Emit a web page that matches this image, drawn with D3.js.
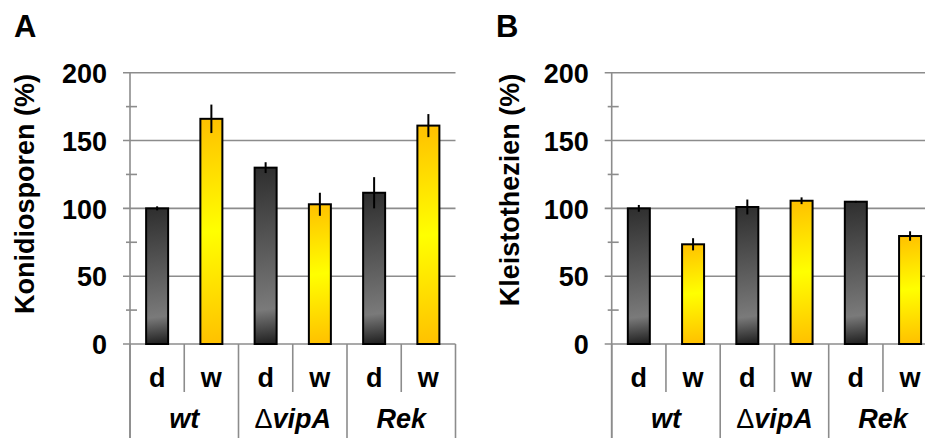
<!DOCTYPE html>
<html>
<head>
<meta charset="utf-8">
<script src="https://cdn.jsdelivr.net/npm/d3@7"></script>
<style>
  body { margin: 0; background: #fff; }
  text { font-family: "Liberation Sans", Arial, sans-serif; font-weight: bold; fill: #000; }
</style>
</head>
<body>
<div id="chart"></div>
<script>
// strains and light conditions (d = dark, w = white light)
const groups = ["wt", "vipA", "Rek"];
const conditions = ["d", "w"];

// panel A: conidiospores, panel B: cleistothecia (% of wt dark)
const konidiosporen = [100, 166, 130, 103, 111.5, 161];
const konidiosporenErr = [1.5, 10.5, 4, 8.5, 11.5, 8.5];
const kleistothezien = [100, 73.5, 101, 105.6, 104.9, 79.6];
const kleistothezienErr = [2.5, 4.5, 5.5, 2.5, 0.6, 3.5];

const yTicks = [0, 50, 100, 150, 200];
const yMinorTicks = [25, 75, 125, 175];

const width = 925, height = 438;

const svg = d3.select("#chart").append("svg")
    .attr("width", width)
    .attr("height", height);

const defs = svg.append("defs");

// one key per bar: "wt-d", "wt-w", ...
const categories = [];
groups.forEach(g => conditions.forEach(c => categories.push(g + "-" + c)));

const y = d3.scaleLinear().domain([0, 200]).range([344, 72.7]);

function drawPanel(opts) {
    let bandWidth = 54.25;
    let x = d3.scaleBand()
        .domain(categories)
        .range([opts.x0, opts.x0 + bandWidth * categories.length])
        .padding(0);
    let right = opts.x0 + bandWidth * categories.length;

    let g = svg.append("g");

    // panel letter
    g.append("text")
        .attr("x", opts.letterX)
        .attr("y", 37)
        .style("font-size", "31px")
        .text(opts.letter);

    // y axis title
    g.append("text")
        .attr("transform", "translate(" + opts.titleX + "," + opts.titleY + ")rotate(-90)")
        .attr("text-anchor", "middle")
        .style("font-size", "27px")
        .text(opts.title);

    // gridlines
    g.append("g").selectAll("line")
        .data(yTicks)
        .enter().append("line")
        .attr("x1", opts.x0 - 7)
        .attr("x2", right)
        .attr("y1", d => y(d))
        .attr("y2", d => y(d))
        .attr("stroke", "#8c8c8c")
        .attr("stroke-width", 1.6);

    // minor ticks
    g.append("g").selectAll("line")
        .data(yMinorTicks)
        .enter().append("line")
        .attr("x1", opts.x0 - 4)
        .attr("x2", opts.x0 + 7)
        .attr("y1", d => y(d))
        .attr("y2", d => y(d))
        .attr("stroke", "#8c8c8c")
        .attr("stroke-width", 1.6);

    // y axis line
    g.append("line")
        .attr("x1", opts.x0).attr("x2", opts.x0)
        .attr("y1", y(200)).attr("y2", height)
        .attr("stroke", "#8c8c8c")
        .attr("stroke-width", 1.6);

    // tick labels
    let axis = g.append("g")
        .attr("transform", "translate(" + opts.x0 + ",0)")
        .call(d3.axisLeft(y).tickValues(yTicks).tickSize(0).tickPadding(23));
    axis.select(".domain").remove();
    axis.selectAll("text")
        .attr("font-family", null)
        .style("font-size", "27px")
        .attr("dy", "0.36em");

    // category dividers below the axis
    let bounds = d3.range(categories.length + 1);
    g.append("g").selectAll("line")
        .data(bounds)
        .enter().append("line")
        .attr("x1", i => i < categories.length ? x(categories[i]) : right)
        .attr("x2", i => i < categories.length ? x(categories[i]) : right)
        .attr("y1", y(0))
        .attr("y2", i => i % 2 === 0 ? height : 392)
        .attr("stroke", "#8c8c8c")
        .attr("stroke-width", 1.6);

    // bars
    let barW = 22;
    let data = categories.map((c, i) => ({
        key: c,
        cond: c.split("-")[1],
        value: opts.values[i],
        err: opts.errors[i]
    }));

    // slightly tilted gradient per bar, like the office fill
    data.forEach((d, i) => {
        let left = x(d.key) + (bandWidth - barW) / 2;
        let top = y(d.value), bottom = y(0);
        let grad = defs.append("linearGradient")
            .attr("id", "grad-" + opts.letter + i)
            .attr("gradientUnits", "userSpaceOnUse")
            .attr("x1", left).attr("y1", top)
            .attr("x2", left + 0.12 * (bottom - top)).attr("y2", bottom);
        let stops = d.cond === "d"
            ? [[0, "#2e2e2e"], [0.8, "#7a7a7a"], [1, "#1e1e1e"]]
            : [[0, "#ffc000"], [0.5, "#ffff00"], [1, "#ffc000"]];
        stops.forEach(s => grad.append("stop").attr("offset", s[0]).attr("stop-color", s[1]));
        d.left = left;
    });

    g.append("g").selectAll("rect")
        .data(data)
        .enter().append("rect")
        .attr("x", d => d.left)
        .attr("y", d => y(d.value))
        .attr("width", barW)
        .attr("height", d => y(0) - y(d.value))
        .attr("fill", (d, i) => "url(#grad-" + opts.letter + i + ")")
        .attr("stroke", "#000")
        .attr("stroke-width", 2);

    // error bars
    g.append("g").selectAll("line")
        .data(data)
        .enter().append("line")
        .attr("x1", d => x(d.key) + bandWidth / 2)
        .attr("x2", d => x(d.key) + bandWidth / 2)
        .attr("y1", d => y(d.value + d.err))
        .attr("y2", d => y(d.value - d.err))
        .attr("stroke", "#000")
        .attr("stroke-width", 2);

    // condition labels
    g.append("g").selectAll("text")
        .data(data)
        .enter().append("text")
        .attr("x", d => x(d.key) + bandWidth / 2)
        .attr("y", 377)
        .attr("dy", "0.36em")
        .attr("text-anchor", "middle")
        .style("font-size", "27px")
        .text(d => d.cond);

    // strain labels
    let glabels = g.append("g").selectAll("text")
        .data(groups)
        .enter().append("text")
        .attr("x", (d, i) => x(categories[i * 2]) + bandWidth)
        .attr("y", 418)
        .attr("dy", "0.36em")
        .attr("text-anchor", "middle")
        .style("font-size", "27px");
    glabels.each(function(d) {
        let t = d3.select(this);
        if (d === "vipA") {
            t.append("tspan").style("font-weight", "normal").text("\u0394");
        }
        t.append("tspan").style("font-style", "italic").text(d);
    });
}

drawPanel({
    letter: "A", letterX: 14,
    title: "Konidiosporen (%)", titleX: 34, titleY: 194,
    x0: 130, values: konidiosporen, errors: konidiosporenErr
});

drawPanel({
    letter: "B", letterX: 496,
    title: "Kleistothezien (%)", titleX: 519, titleY: 190,
    x0: 611.7, values: kleistothezien, errors: kleistothezienErr
});
</script>
</body>
</html>
